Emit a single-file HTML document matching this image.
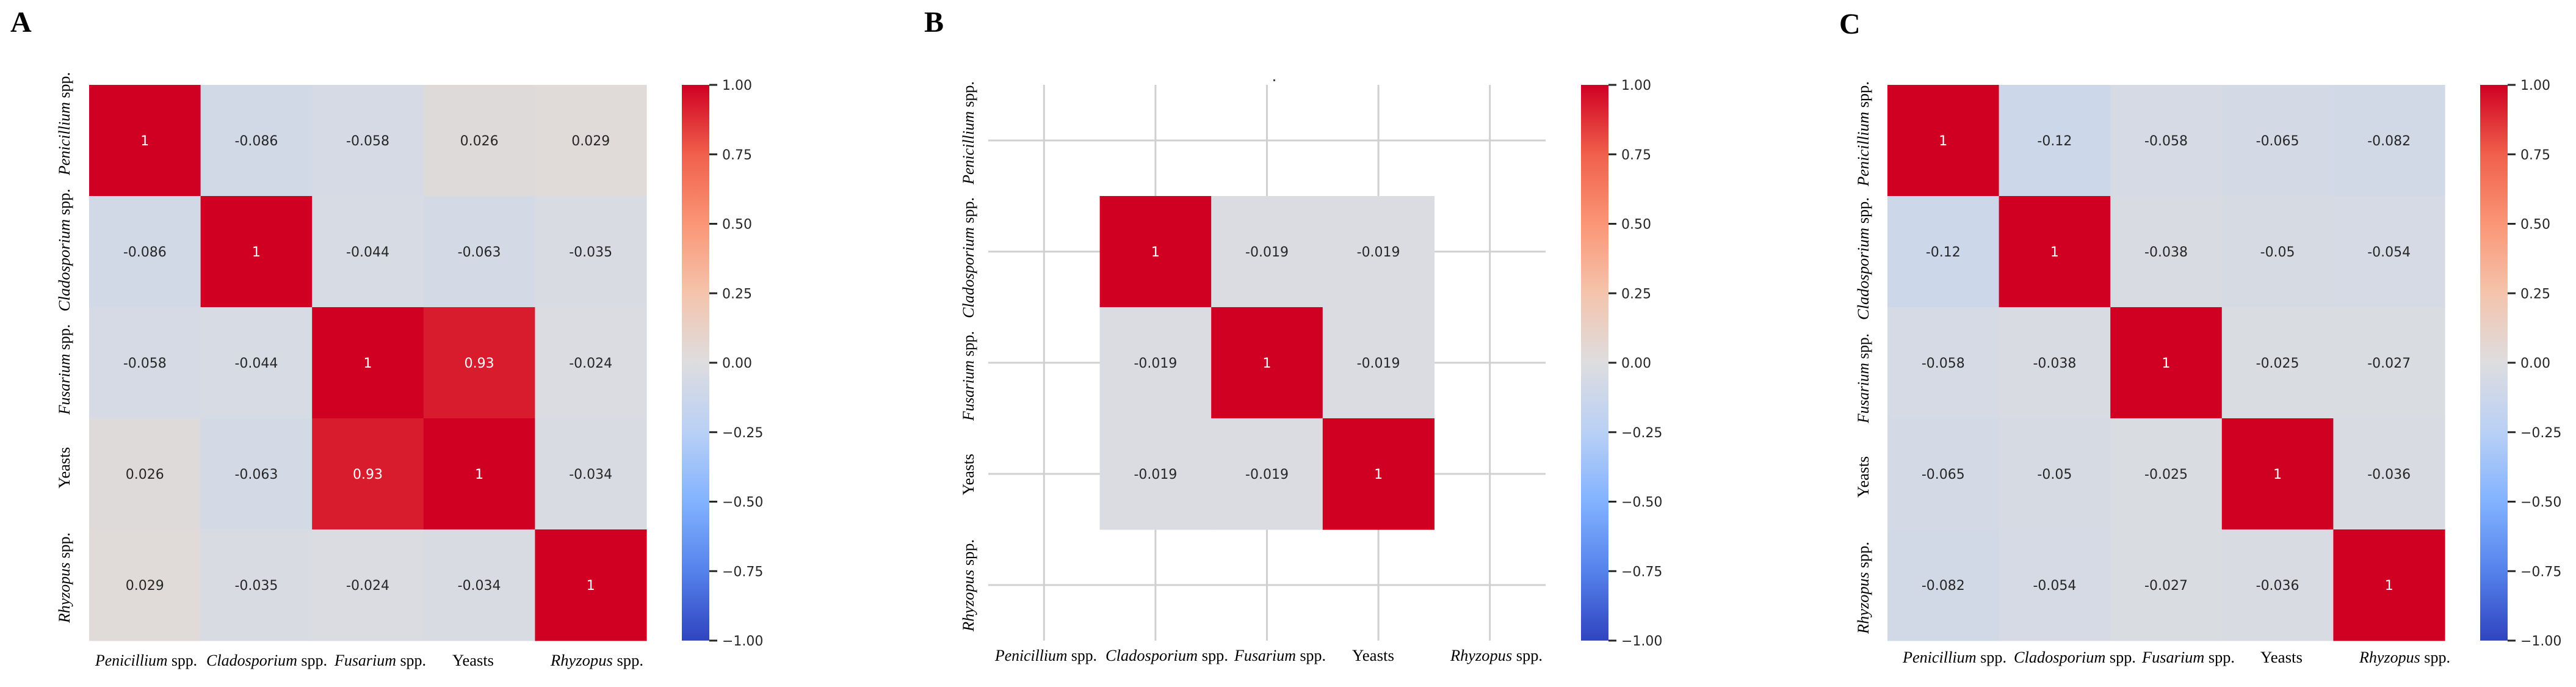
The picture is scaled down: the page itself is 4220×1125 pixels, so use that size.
<!DOCTYPE html>
<html><head><meta charset="utf-8">
<style>
html,body{margin:0;padding:0;background:#fff;}
svg{display:block;}
</style></head>
<body>
<svg id="fig" width="4220" height="1125" viewBox="0 0 4220 1125" xmlns="http://www.w3.org/2000/svg">
<defs>
<linearGradient id="cbgrad" x1="0" y1="1" x2="0" y2="0">
<stop offset="0" stop-color="rgb(48,68,192)"/>
<stop offset="0.125" stop-color="rgb(85,130,235)"/>
<stop offset="0.25" stop-color="rgb(130,178,255)"/>
<stop offset="0.375" stop-color="rgb(185,208,245)"/>
<stop offset="0.5" stop-color="rgb(221,221,223)"/>
<stop offset="0.625" stop-color="rgb(245,196,172)"/>
<stop offset="0.75" stop-color="rgb(250,150,118)"/>
<stop offset="0.875" stop-color="rgb(240,96,75)"/>
<stop offset="1" stop-color="rgb(208,0,35)"/>
</linearGradient>
</defs>
<rect x="2086" y="130" width="3" height="3" fill="#444"/>
</svg>
<script>
// ---- data ----
const categories = ["Penicillium", "Cladosporium", "Fusarium", "Yeasts", "Rhyzopus"];
const italicGenus = [true, true, true, false, true];
const valuesA = [
  [1, -0.086, -0.058, 0.026, 0.029],
  [-0.086, 1, -0.044, -0.063, -0.035],
  [-0.058, -0.044, 1, 0.93, -0.024],
  [0.026, -0.063, 0.93, 1, -0.034],
  [0.029, -0.035, -0.024, -0.034, 1]
];
const valuesB = [
  [null, null, null, null, null],
  [null, 1, -0.019, -0.019, null],
  [null, -0.019, 1, -0.019, null],
  [null, -0.019, -0.019, 1, null],
  [null, null, null, null, null]
];
const valuesC = [
  [1, -0.12, -0.058, -0.065, -0.082],
  [-0.12, 1, -0.038, -0.05, -0.054],
  [-0.058, -0.038, 1, -0.025, -0.027],
  [-0.065, -0.05, -0.025, 1, -0.036],
  [-0.082, -0.054, -0.027, -0.036, 1]
];
const cbTicks = [1, 0.75, 0.5, 0.25, 0, -0.25, -0.5, -0.75, -1];
const cbTickLabels = ["1.00", "0.75", "0.50", "0.25", "0.00", "\u22120.25", "\u22120.50", "\u22120.75", "\u22121.00"];

const NS = "http://www.w3.org/2000/svg";
const svg = document.getElementById("fig");
const stops = [
  [-1, [48,68,192]], [-0.75, [85,130,235]], [-0.5, [130,178,255]], [-0.25, [185,208,245]],
  [0, [221,221,223]], [0.25, [245,196,172]], [0.5, [250,150,118]], [0.75, [240,96,75]], [1, [208,0,35]]
];
function cmap(v) {
  for (let i = 0; i < stops.length - 1; i++) {
    const a = stops[i], b = stops[i+1];
    if (v <= b[0]) {
      const t = (v - a[0]) / (b[0] - a[0]);
      const c = a[1].map((x, k) => Math.round(x + (b[1][k] - x) * t));
      return "rgb(" + c.join(",") + ")";
    }
  }
  return "rgb(208,0,35)";
}
function mk(tag, attrs, parent) {
  const e = document.createElementNS(NS, tag);
  for (const k in attrs) e.setAttribute(k, attrs[k]);
  (parent || svg).appendChild(e);
  return e;
}
function fmt(v) { return String(v); }

const panels = [
  { letter: "A", lx: 17, ly: 52, hx: 146, values: valuesA, grid: false, ylx: 105, xb: 1090,
    xl: [[156,323],[338,536],[548,698],[741,809],[902,1054]],
    yl: [[118,287],[309,510],[531,679],[732,800],[872,1020]] },
  { letter: "B", lx: 1514, ly: 52, hx: 1619, values: valuesB, grid: true, ylx: 1586, xb: 1082,
    xl: [[1630,1797],[1811,2012],[2022,2172],[2215,2284],[2376,2527]],
    yl: [[133,302],[323,521],[542,689],[743,811],[883,1034]] },
  { letter: "C", lx: 3013, ly: 55, hx: 3092, values: valuesC, grid: false, ylx: 3052, xb: 1085,
    xl: [[3117,3287],[3299,3499],[3509,3661],[3703,3772],[3865,4014]],
    yl: [[133,305],[323,524],[546,693],[747,815],[887,1038]] }
];
const top0 = 139, cell = 182.6, cellH = 182, n = categories.length;
const vmin = -1, vmax = 1;

panels.forEach(p => {
  const g = mk("g", {});
  
  
  const xPos = j => p.hx + j * cell;
  const yPos = i => top0 + i * cellH;
  const lt = mk("text", { x: p.lx, y: p.ly, "font-family": "Liberation Serif, serif", "font-weight": "bold", "font-size": 48, fill: "#000" }, g);
  lt.textContent = p.letter;
  
  
  if (p.grid) {
    for (let k = 0; k < n; k++) {
      const vl = mk("line", { x1: xPos(k) + cell/2, x2: xPos(k) + cell/2, y1: top0, y2: yPos(n), stroke: "#d0d0d0", "stroke-width": 3 }, g);
      
      
      const hl = mk("line", { x1: p.hx, x2: xPos(n), y1: yPos(k) + cellH/2, y2: yPos(k) + cellH/2, stroke: "#d0d0d0", "stroke-width": 3 }, g);
      
      
    }
  }
  for (let i = 0; i < n; i++) for (let j = 0; j < n; j++) {
    const v = p.values[i][j];
    if (v === null) continue;
    const r = mk("rect", { x: xPos(j), y: yPos(i), width: cell + 0.6, height: cellH + 0.6, fill: cmap(v) }, g);
    
    
    const t = mk("text", { x: xPos(j) + cell/2, y: yPos(i) + cellH/2 + 8, "text-anchor": "middle", "font-family": "DejaVu Sans, sans-serif", "font-size": 22, fill: v > 0.5 ? "#fff" : "#262626" }, g);
    t.textContent = fmt(v);
    
    
  }
  // x labels
  categories.forEach((c, j) => {
    const [a, b] = p.xl[j];
    const t = mk("text", { x: a, y: p.xb, "font-family": "Liberation Serif, serif", "font-size": 26, fill: "#000", textLength: b - a, lengthAdjust: "spacingAndGlyphs" }, g);
    if (italicGenus[j]) {
      const s1 = mk("tspan", { "font-style": "italic" }, t); s1.textContent = c;
      const s2 = mk("tspan", {}, t); s2.textContent = " spp.";
    } else t.textContent = c;
    
    
  });
  // y labels (rotated)
  categories.forEach((c, i) => {
    const [a, b] = p.yl[i];
    const t = mk("text", { x: 0, y: 0, transform: "translate(" + (p.ylx + 9) + "," + b + ") rotate(-90)", "font-family": "Liberation Serif, serif", "font-size": 26, fill: "#000", textLength: b - a, lengthAdjust: "spacingAndGlyphs" }, g);
    if (italicGenus[i]) {
      const s1 = mk("tspan", { "font-style": "italic" }, t); s1.textContent = c;
      const s2 = mk("tspan", {}, t); s2.textContent = " spp.";
    } else t.textContent = c;
    
    
  });
  // colorbar
  const cbx = p.hx + 971, cbw = 45, cbTop = top0, cbBot = top0 + n * cellH;
  const cb = mk("rect", { x: cbx, y: cbTop, width: cbw, height: cbBot - cbTop, fill: "url(#cbgrad)" }, g);
  
  
  const cy = v => cbBot - (v - vmin) / (vmax - vmin) * (cbBot - cbTop);
  cbTicks.forEach((v, k) => {
    const tk = mk("line", { x1: cbx + cbw, x2: cbx + cbw + 13, y1: cy(v), y2: cy(v), stroke: "#262626", "stroke-width": 3 }, g);
    
    
    const tl = mk("text", { x: cbx + cbw + 21, y: cy(v) + 8, "font-family": "DejaVu Sans, sans-serif", "font-size": 22, fill: "#262626" }, g);
    tl.textContent = cbTickLabels[k];
    
    
  });
});
</script>
</body></html>
